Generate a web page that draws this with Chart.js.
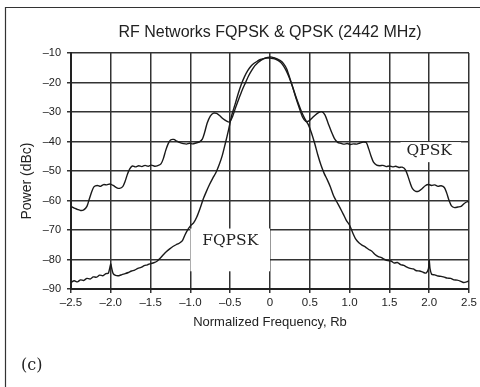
<!DOCTYPE html>
<html>
<head>
<meta charset="utf-8">
<script src="https://cdn.jsdelivr.net/npm/chart.js@4"></script>
<style>
  html, body { margin: 0; padding: 0; background: #fff; }
  canvas { display: block; }
</style>
</head>
<body>
<canvas id="spectrum" width="480" height="387"></canvas>
<script>
// Normalized frequency (Rb) / power (dBc) traces
const qpskFreq = [
  -2.50, -2.46, -2.42, -2.38, -2.34, -2.30, -2.27, -2.24, -2.21, -2.17,
  -2.13, -2.09, -2.05, -2.01, -1.97, -1.93, -1.89, -1.85, -1.82, -1.79,
  -1.76, -1.73, -1.69, -1.65, -1.61, -1.57, -1.53, -1.49, -1.45, -1.41,
  -1.37, -1.34, -1.31, -1.28, -1.25, -1.21, -1.17, -1.13, -1.09, -1.05,
  -1.01, -0.97, -0.93, -0.89, -0.85, -0.82, -0.79, -0.75, -0.71, -0.67,
  -0.63, -0.59, -0.55, -0.51, -0.47, -0.43, -0.39, -0.35, -0.31, -0.27,
  -0.23, -0.19, -0.15, -0.11, -0.07, -0.03, 0.01, 0.05, 0.09, 0.13,
  0.17, 0.21, 0.25, 0.29, 0.33, 0.37, 0.41, 0.45, 0.49, 0.53,
  0.57, 0.61, 0.65, 0.69, 0.73, 0.77, 0.81, 0.85, 0.89, 0.93,
  0.97, 1.01, 1.05, 1.09, 1.13, 1.17, 1.21, 1.24, 1.27, 1.30,
  1.34, 1.38, 1.42, 1.46, 1.50, 1.54, 1.58, 1.62, 1.66, 1.70,
  1.73, 1.76, 1.79, 1.83, 1.87, 1.91, 1.95, 1.99, 2.03, 2.07,
  2.11, 2.15, 2.19, 2.22, 2.25, 2.28, 2.32, 2.36, 2.40, 2.44,
  2.48, 2.50
];
const qpskPower = [
  -62.0, -62.6, -63.0, -63.4, -63.2, -62.0, -59.5, -57.0, -55.3, -54.9,
  -55.2, -54.6, -54.7, -54.4, -54.9, -55.6, -55.9, -55.3, -53.5, -51.0,
  -49.2, -48.3, -48.6, -48.2, -48.5, -48.1, -48.4, -48.0, -48.4, -48.2,
  -47.6, -45.8, -43.0, -40.8, -39.5, -39.3, -39.9, -40.4, -40.7, -40.9,
  -40.6, -40.8, -40.5, -40.2, -39.2, -36.8, -33.8, -31.4, -30.4, -30.5,
  -31.3, -32.3, -33.0, -33.4, -31.5, -28.3, -25.4, -22.6, -20.2, -17.8,
  -15.9, -14.3, -13.2, -12.4, -11.8, -11.5, -11.3, -11.6, -12.0, -12.6,
  -13.6, -15.4, -18.6, -22.0, -25.6, -28.8, -31.8, -33.2, -33.0, -32.0,
  -31.0, -30.2, -29.9, -31.0, -33.8, -36.6, -39.0, -40.3, -40.6, -40.9,
  -40.7, -41.0, -40.8, -40.9, -40.5, -40.2, -40.4, -42.5, -45.0, -47.0,
  -48.0, -48.2, -48.1, -48.5, -48.3, -48.6, -48.4, -48.8, -48.7, -49.5,
  -51.5, -54.0, -56.0, -56.9, -56.8, -56.0, -55.0, -54.6, -54.9, -54.7,
  -55.2, -55.0, -55.6, -57.5, -60.0, -61.8, -62.4, -62.2, -62.0, -61.0,
  -60.4, -60.6
];

const fqpskFreq = [
  -2.50, -2.46, -2.42, -2.38, -2.34, -2.30, -2.26, -2.22, -2.18, -2.14,
  -2.10, -2.06, -2.03, -2.01, -2.00, -1.99, -1.97, -1.94, -1.90, -1.86,
  -1.82, -1.78, -1.74, -1.70, -1.66, -1.62, -1.58, -1.54, -1.50, -1.46,
  -1.42, -1.38, -1.34, -1.30, -1.26, -1.22, -1.18, -1.14, -1.10, -1.07,
  -1.04, -1.00, -0.96, -0.92, -0.88, -0.84, -0.80, -0.76, -0.72, -0.68,
  -0.64, -0.60, -0.56, -0.52, -0.48, -0.44, -0.40, -0.36, -0.32, -0.28,
  -0.24, -0.20, -0.16, -0.12, -0.08, -0.04, 0.00, 0.04, 0.08, 0.12,
  0.16, 0.20, 0.24, 0.28, 0.32, 0.36, 0.40, 0.44, 0.48, 0.52,
  0.56, 0.60, 0.64, 0.68, 0.72, 0.76, 0.80, 0.84, 0.88, 0.92,
  0.96, 1.00, 1.04, 1.08, 1.12, 1.16, 1.20, 1.24, 1.28, 1.32,
  1.36, 1.40, 1.44, 1.48, 1.52, 1.56, 1.60, 1.64, 1.68, 1.72,
  1.76, 1.80, 1.84, 1.88, 1.92, 1.96, 1.99, 2.00, 2.01, 2.03,
  2.07, 2.11, 2.15, 2.19, 2.23, 2.27, 2.31, 2.35, 2.39, 2.43,
  2.47, 2.50
];
const fqpskPower = [
  -87.8, -87.2, -87.6, -86.9, -87.1, -86.4, -86.6, -85.9, -86.0, -85.3,
  -85.5, -84.8, -84.6, -82.5, -81.5, -82.8, -84.8, -85.4, -85.5, -85.1,
  -84.8, -84.4, -83.9, -83.6, -83.0, -82.7, -82.1, -81.8, -81.4, -81.1,
  -80.6, -79.6, -78.4, -77.3, -76.4, -75.6, -75.0, -74.5, -73.6, -71.8,
  -70.2, -68.6, -67.6, -65.6, -62.8, -59.6, -57.0, -54.6, -52.5, -50.6,
  -48.0, -44.8, -40.5, -36.0, -31.0, -27.5, -23.8, -20.6, -18.0, -16.0,
  -14.5, -13.5, -12.8, -12.2, -11.9, -11.7, -11.7, -11.9, -12.2, -12.9,
  -14.0, -15.8, -18.2, -21.2, -24.4, -27.4, -30.2, -32.4, -34.2, -37.0,
  -40.5, -44.5, -48.0, -50.8, -53.0, -55.5, -58.5, -60.5, -62.5, -64.6,
  -66.8, -68.4, -71.0, -73.2, -74.4, -75.2, -75.8, -76.6, -77.2, -78.3,
  -79.0, -79.4, -80.0, -80.4, -80.5, -81.2, -81.0, -81.7, -82.0, -82.6,
  -83.0, -83.2, -83.8, -83.9, -84.3, -84.6, -83.2, -80.3, -83.0, -85.0,
  -85.2, -85.6, -85.7, -86.0, -86.3, -86.4, -86.9, -87.0, -87.3, -87.8,
  -87.6, -87.2
];

const xTickLabels = ['\u20132.5', '\u20132.0', '\u20131.5', '\u20131.0', '\u20130.5', '0', '0.5', '1.0', '1.5', '2.0', '2.5'];
const yTickLabels = ['\u201390', '\u201380', '\u201370', '\u201360', '\u201350', '\u201340', '\u201330', '\u201320', '\u201310'];

const chartTitle = 'RF Networks FQPSK & QPSK (2442 MHz)';
const xTitle = 'Normalized Frequency, Rb';
const yTitle = 'Power (dBc)';
const panelTag = '(c)';

const toPoints = (xs, ys) => xs.map((x, i) => ({ x: x, y: ys[i] }));

const textColor = '#222';
const sans = '"Liberation Sans", Arial, sans-serif';
const serif = '"DejaVu Serif", serif';

// curve labels sit on a white patch that hides the grid behind them
const curveLabels = [
  { text: 'FQPSK', x: -0.5, y: -73.6, box: [-1.0, -69.5, 0.0, -84] },
  { text: 'QPSK', x: 2.0, y: -43.1, box: [1.64, -40.2, 2.4, -47.0] }
];

const decorations = {
  id: 'decorations',
  beforeDatasetsDraw(chart) {
    const { ctx, scales } = chart;
    ctx.save();
    ctx.fillStyle = '#fff';
    curveLabels.forEach((l) => {
      const x0 = scales.x.getPixelForValue(l.box[0]);
      const y0 = scales.y.getPixelForValue(l.box[1]);
      const x1 = scales.x.getPixelForValue(l.box[2]);
      const y1 = scales.y.getPixelForValue(l.box[3]);
      ctx.fillRect(x0, y0, x1 - x0, y1 - y0);
    });
    ctx.restore();
  },
  afterDraw(chart) {
    const { ctx, chartArea, scales } = chart;
    const cx = (chartArea.left + chartArea.right) / 2;
    ctx.save();
    // outer frame (left and top edges)
    ctx.strokeStyle = '#333';
    ctx.lineWidth = 1.2;
    ctx.beginPath();
    ctx.moveTo(5.5, 387);
    ctx.lineTo(5.5, 7.5);
    ctx.lineTo(480, 7.5);
    ctx.stroke();

    ctx.fillStyle = textColor;
    ctx.textAlign = 'center';
    ctx.textBaseline = 'middle';
    ctx.font = '16px ' + sans;
    ctx.fillText(chartTitle, cx, 33);

    ctx.font = '13px ' + sans;
    ctx.fillText(xTitle, cx, 322);

    ctx.save();
    ctx.translate(27, 181);
    ctx.rotate(-Math.PI / 2);
    ctx.font = '14px ' + sans;
    ctx.fillText(yTitle, 0, 0);
    ctx.restore();

    ctx.font = '15.5px ' + serif;
    curveLabels.forEach((l) => {
      ctx.fillText(l.text, scales.x.getPixelForValue(l.x), scales.y.getPixelForValue(l.y));
    });

    ctx.textAlign = 'left';
    ctx.font = '16px ' + serif;
    ctx.fillText(panelTag, 21, 366);
    ctx.restore();
  }
};

const gridColor = '#333';

new Chart(document.getElementById('spectrum').getContext('2d'), {
  type: 'line',
  data: {
    datasets: [
      {
        label: 'QPSK',
        data: toPoints(qpskFreq, qpskPower),
        borderColor: '#1a1a1a',
        borderWidth: 1.4,
        pointRadius: 0,
        tension: 0.25,
        fill: false
      },
      {
        label: 'FQPSK',
        data: toPoints(fqpskFreq, fqpskPower),
        borderColor: '#1a1a1a',
        borderWidth: 1.4,
        pointRadius: 0,
        tension: 0.25,
        fill: false
      }
    ]
  },
  options: {
    responsive: false,
    animation: false,
    layout: { padding: { left: 0, top: 53, right: 8, bottom: 68 } },
    plugins: {
      legend: { display: false },
      tooltip: { enabled: false }
    },
    scales: {
      x: {
        type: 'linear',
        min: -2.5,
        max: 2.5,
        afterFit: (scale) => { scale.height = 30; },
        ticks: {
          stepSize: 0.5,
          padding: 3,
          color: textColor,
          font: { family: sans, size: 11.5 },
          maxRotation: 0,
          callback: (value, index) => xTickLabels[index]
        },
        grid: { color: gridColor, lineWidth: 1.5, tickLength: 4 },
        border: { color: '#222', width: 2 }
      },
      y: {
        min: -90,
        max: -10,
        afterFit: (scale) => { scale.width = 71; },
        ticks: {
          stepSize: 10,
          padding: 6,
          color: textColor,
          font: { family: sans, size: 11 },
          callback: (value, index) => yTickLabels[index]
        },
        grid: { color: gridColor, lineWidth: 1.5, tickLength: 4 },
        border: { color: '#222', width: 2 }
      }
    }
  },
  plugins: [decorations]
});
</script>
</body>
</html>
